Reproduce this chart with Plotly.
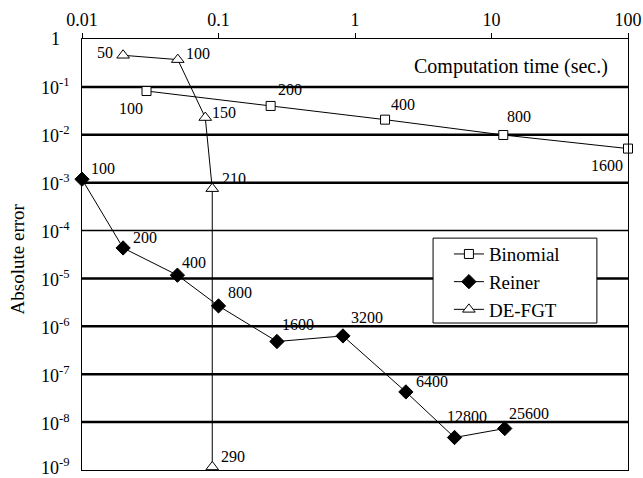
import math
import plotly.graph_objects as go

# ---- data ----
binomial_time = [0.0297, 0.241, 1.66, 12.2, 100]
binomial_err = [0.082, 0.040, 0.0207, 0.0099, 0.00515]
binomial_lbl = ["100", "200", "400", "800", "1600"]

reiner_time = [0.01, 0.02, 0.05, 0.1, 0.268, 0.816, 2.36, 5.36, 12.5]
reiner_err = [1.18e-3, 4.33e-5, 1.17e-5, 2.67e-6, 4.82e-7, 6.3e-7, 4.27e-8, 4.77e-9, 7.35e-9]
reiner_lbl = ["100", "200", "400", "800", "1600", "3200", "6400", "12800", "25600"]

defgt_time = [0.02, 0.0503, 0.080, 0.090, 0.090]
defgt_err = [0.457, 0.371, 0.0229, 7.5e-4, 1.16e-9]
defgt_lbl = ["50", "100", "150", "210", "290"]

x_ticks = [0.01, 0.1, 1, 10, 100]
x_ticktext = ["0.01", "0.1", "1", "10", "100"]
y_exps = [0, -1, -2, -3, -4, -5, -6, -7, -8, -9]

# ---- label offsets (px) ----
binomial_off = [(-16, -17), (19, 16), (18, 15), (16, 18), (-21, -17)]
reiner_off = [(21, 11), (22, 10), (17, 13), (21, 13), (21, 17), (24, 18), (26, 10), (12, 21), (24, 15)]
defgt_off = [(-18, 3), (20, 6), (19, 5), (22, 10), (21, 10)]

FONT = "Liberation Serif, Times New Roman, serif"

fig = go.Figure()
fig.add_trace(go.Scatter(x=binomial_time, y=binomial_err, name="Binomial", mode="lines+markers",
                         line=dict(color="black", width=1),
                         marker=dict(symbol="square", size=9, color="white", line=dict(color="black", width=1)),
                         cliponaxis=False))
fig.add_trace(go.Scatter(x=reiner_time, y=reiner_err, name="Reiner", mode="lines+markers",
                         line=dict(color="black", width=1),
                         marker=dict(symbol="diamond", size=11, color="black", line=dict(color="black", width=1)),
                         cliponaxis=False))
fig.add_trace(go.Scatter(x=defgt_time, y=defgt_err, name="DE-FGT", mode="lines+markers",
                         line=dict(color="black", width=1),
                         marker=dict(symbol="triangle-up", size=11, color="white", line=dict(color="black", width=1)),
                         cliponaxis=False))

annotations = []
for xs, ys, ls, offs in [(binomial_time, binomial_err, binomial_lbl, binomial_off),
                         (reiner_time, reiner_err, reiner_lbl, reiner_off),
                         (defgt_time, defgt_err, defgt_lbl, defgt_off)]:
    for xv, yv, lb, (dx, dy) in zip(xs, ys, ls, offs):
        annotations.append(dict(x=math.log10(xv), y=math.log10(yv), xref="x", yref="y",
                                text=lb, showarrow=False, xshift=dx, yshift=dy,
                                font=dict(family=FONT, size=16, color="black")))

# y tick labels, centred like the reference
for e in y_exps:
    txt = "1" if e == 0 else "10<sup>%d</sup>" % e
    annotations.append(dict(x=-0.048, y=e, xref="paper", yref="y", text=txt, showarrow=False,
                            xanchor="center", yanchor="middle", yshift=4 if e == -9 else 0,
                            font=dict(family=FONT, size=18, color="black")))

annotations.append(dict(x=0.967, y=0.937, xref="paper", yref="paper", text="Computation time (sec.)",
                        showarrow=False, xanchor="right", yanchor="middle",
                        font=dict(family=FONT, size=20, color="black")))
annotations.append(dict(x=-0.118, y=0.49, xref="paper", yref="paper", text="Absolute error",
                        showarrow=False, textangle=-90, xanchor="center", yanchor="middle",
                        font=dict(family=FONT, size=19, color="black")))

# horizontal decade grid lines
shapes = []
for e in y_exps[1:-1]:
    shapes.append(dict(type="line", xref="paper", yref="y", x0=0, x1=1, y0=10 ** e, y1=10 ** e,
                       line=dict(color="black", width=1.5 if e == -4 else 2.5), layer="below"))
# legend frame
shapes.append(dict(type="rect", xref="paper", yref="paper", x0=0.643, x1=0.943, y0=0.341, y1=0.538,
                   fillcolor="white", line=dict(color="black", width=1), layer="above"))

fig.update_layout(
    width=643, height=478,
    margin=dict(l=82, r=15, t=39, b=8, autoexpand=False),
    paper_bgcolor="white", plot_bgcolor="white",
    font=dict(family=FONT, size=18, color="black"),
    showlegend=True,
    legend=dict(x=0.672, y=0.545, xanchor="left", yanchor="top",
                bgcolor="rgba(0,0,0,0)", borderwidth=0,
                font=dict(family=FONT, size=19, color="black"), tracegroupgap=0),
    xaxis=dict(type="log", range=[-2, 2], side="top", tickvals=x_ticks, ticktext=x_ticktext,
               ticks="outside", ticklen=5, tickcolor="black", showgrid=False, zeroline=False,
               showline=True, linecolor="black", linewidth=1, mirror=True, automargin=False,
               tickfont=dict(family=FONT, size=18, color="black")),
    yaxis=dict(type="log", range=[-9, 0], showticklabels=False, ticks="", showgrid=False, zeroline=False,
               showline=True, linecolor="black", linewidth=1, mirror=True, automargin=False),
    annotations=annotations, shapes=shapes,
)

fig.write_html("out.html", config={"displayModeBar": False},
               post_script="document.body.style.margin='0px';document.body.style.padding='0px';")
